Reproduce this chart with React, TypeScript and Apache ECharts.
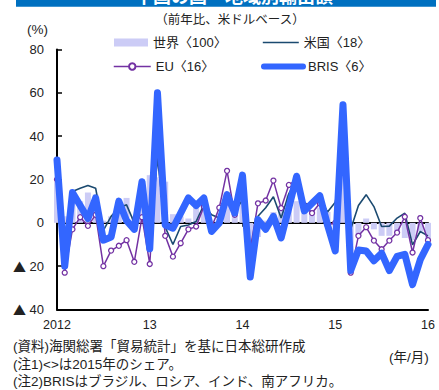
import React, { useEffect, useRef } from "react";
import * as echarts from "echarts";

// Monthly categories, Jan 2012 – Jan 2016
const months: string[] = [];
for (let y = 2012; y <= 2016; y++) {
  for (let m = 1; m <= 12; m++) {
    if (y === 2016 && m > 1) break;
    months.push(`${y}/${m}`);
  }
}

// Labels shown at each January
const yearTickLabels = ["2012", "13", "14", "15", "16"];

const seriesNames = ["世界〈100〉", "米国〈18〉", "EU〈16〉", "BRIS〈6〉"];

// 世界 (bars)
const world = [
  19, 3, 9, 10, 14, 13, 1, 3, 9, 11.5, 3, 14,
  22, 21, 19, 4, 3, 2, 8, 7, -3, 4.5, 12, 4,
  10, -18, -6.5, 1, 5, 7.5, 13, 10, 8, 6, 7, 5,
  -3, 48, -15, -6, 2, -3, -6, -6, -4, -7, -8, -4,
  -8,
];

// 米国
const usa = [
  25, -17, 14.5, 16, 17.2, 16, -3.5, 3, 6.8, 8.3, 0, 10.6,
  -8, 30, -2, -10, -1.7, -1, 0.6, 8.3, 3.7, 2.2, 12, 5.2,
  10.6, -12, 3, 7, 12, 2.2, 13.5, 20, 9, 8.3, 12, 5,
  9.5, 28, -3, 8, 13, 7.5, -1.7, -1.5, 2.2, 4.5, -10.2, -4,
  -6,
];

// EU
const eu = [
  20, -23, -3, 2.6, -1.4, 3.7, -20, -12.8, -10.6, -8, -18, 2.6,
  -19, 36, -6, -15.6, -9.4, -3, -1.7, 7.5, -2, 7, 24, 3.7,
  16, -12.5, 9, 10.3, 19.5, 6.8, 17.5, 20, 8, 4.5, 9, -1,
  0, 35, -23, -6, -2, -8.2, -12.2, -8.2, -4.5, 2.8, -13.7, 2.2,
  -8,
];

// BRIS
const bris = [
  29, -20, 14, 8, 2, 11.5, -8, -6.5, 10, 1, -3, 19,
  -12, 60, -1, -2.5, 4.5, 11.5, 8, 11.5, -4, 0, 13, 4.5,
  22, -25, 1.5, -3, 3, -7, 7, 21.5, 5.5, 9, 12.5, -1,
  -13, 54.5, -22, -12.5, -13, -17.5, -14, -22, -15.5, -14.5, -28.5, -17,
  -10,
];

// Latin glyphs from Liberation Sans, Japanese glyphs fall back to Noto Sans CJK JP
const FONT = '"Liberation Sans", "Noto Sans CJK JP", sans-serif';
const CJK_FONT = '"Noto Sans CJK JP", sans-serif';
const TEXT = "#222";

export default function App() {
  const ref = useRef<HTMLDivElement>(null);

  useEffect(() => {
    if (!ref.current) return;
    const chart = echarts.init(ref.current, undefined, { renderer: "svg" });

    const legendBase = {
      orient: "horizontal",
      padding: 0,
      itemGap: 0,
      selectedMode: false,
      textStyle: { color: TEXT, fontSize: 13, fontFamily: FONT },
    };

    const note = (text: string, x: number, y: number) => ({
      type: "text",
      x,
      y,
      style: {
        text,
        fill: TEXT,
        font: `13.5px ${FONT}`,
        lineHeight: 16,
        textAlign: "left",
        textVerticalAlign: "middle",
      },
    });

    chart.setOption({
      animation: false,
      backgroundColor: "#fff",
      textStyle: { fontFamily: FONT },
      grid: { left: 57, right: 11, top: 49.5, bottom: 80.5 },
      legend: [
        { ...legendBase, data: [seriesNames[0]], left: 114, top: 36, itemWidth: 34, itemHeight: 8, icon: "rect" },
        {
          ...legendBase,
          data: [seriesNames[1]],
          left: 262,
          top: 36,
          itemWidth: 36,
          itemHeight: 8,
          lineStyle: { width: 1.6 },
          itemStyle: { opacity: 0 },
        },
        { ...legendBase, data: [seriesNames[2]], left: 113, top: 60, itemWidth: 37, itemHeight: 8, lineStyle: { width: 1.5 } },
        {
          ...legendBase,
          data: [seriesNames[3]],
          left: 261,
          top: 60,
          itemWidth: 39,
          itemHeight: 8,
          lineStyle: { width: 6 },
          itemStyle: { opacity: 0 },
        },
      ],
      xAxis: [
        {
          type: "category",
          data: months,
          boundaryGap: false,
          position: "bottom",
          axisLine: { onZero: false, lineStyle: { color: "#000", width: 2 } },
          axisTick: { show: false },
          axisLabel: {
            interval: 11,
            color: TEXT,
            fontSize: 12.5,
            margin: 9,
            formatter: (_v: string, i: number) => yearTickLabels[Math.round(i / 12)] ?? "",
          },
          splitLine: { show: false },
        },
        {
          type: "category",
          data: months,
          boundaryGap: false,
          position: "bottom",
          axisLine: { onZero: true, lineStyle: { color: "#000", width: 2 } },
          axisTick: { show: true, interval: 11, length: 4, lineStyle: { color: "#000", width: 1.5 } },
          axisLabel: { show: false },
          splitLine: { show: false },
        },
      ],
      yAxis: {
        type: "value",
        min: -40,
        max: 80,
        interval: 20,
        axisLine: { show: true, lineStyle: { color: "#000", width: 2 } },
        axisTick: { show: true, inside: true, length: 5, lineStyle: { color: "#000", width: 1.5 } },
        axisLabel: {
          color: TEXT,
          fontSize: 13,
          margin: 13,
          formatter: (v: number) => (v < 0 ? `{tri|▲} ${-v}` : String(v)),
          rich: {
            tri: { fontFamily: CJK_FONT, fontSize: 13, color: TEXT },
          },
        },
        splitLine: { show: false },
      },
      series: [
        {
          name: seriesNames[0],
          type: "bar",
          data: world,
          barWidth: 6,
          z: 1,
          itemStyle: { color: "#ccccf6" },
        },
        {
          name: seriesNames[1],
          type: "line",
          data: usa,
          symbol: "none",
          z: 2,
          lineStyle: { color: "#1b4a70", width: 1.6 },
          itemStyle: { color: "#1b4a70" },
        },
        {
          name: seriesNames[2],
          type: "line",
          data: eu,
          symbol: "circle",
          symbolSize: 5,
          z: 2,
          lineStyle: { color: "#7332a3", width: 1.5 },
          itemStyle: { color: "#fff", borderColor: "#7332a3", borderWidth: 1.3 },
        },
        {
          name: seriesNames[3],
          type: "line",
          data: bris,
          symbol: "none",
          z: 4,
          lineStyle: { color: "#3366ff", width: 7, join: "round", cap: "round" },
          itemStyle: { color: "#3366ff" },
        },
      ],
      graphic: [
        { type: "rect", shape: { x: 16, y: -10, width: 420, height: 16.7 }, style: { fill: "#0070c0" } },
        {
          type: "text",
          x: 234,
          y: 6,
          style: {
            text: "中国の国・地域別輸出額",
            fill: "#fff",
            font: `bold 18px ${FONT}`,
            textAlign: "center",
            textVerticalAlign: "bottom",
          },
        },
        {
          type: "text",
          x: 230,
          y: 20,
          style: { text: "（前年比、米ドルベース）", fill: TEXT, font: `12.5px ${FONT}`, textAlign: "center", textVerticalAlign: "middle" },
        },
        {
          type: "text",
          x: 27,
          y: 29,
          style: { text: "(%)", fill: TEXT, font: `13.5px ${FONT}`, textAlign: "left", textVerticalAlign: "middle" },
        },
        note("(資料)海関総署「貿易統計」を基に日本総研作成", 13, 346),
        note("(注1)<>は2015年のシェア。", 13, 364),
        note("(注2)BRISはブラジル、ロシア、インド、南アフリカ。", 13, 381.5),
        note("(年/月)", 389, 357),
      ],
    });

    return () => chart.dispose();
  }, []);

  return <div ref={ref} style={{ width: 439, height: 390, position: "absolute", left: 0, top: 0 }} />;
}
